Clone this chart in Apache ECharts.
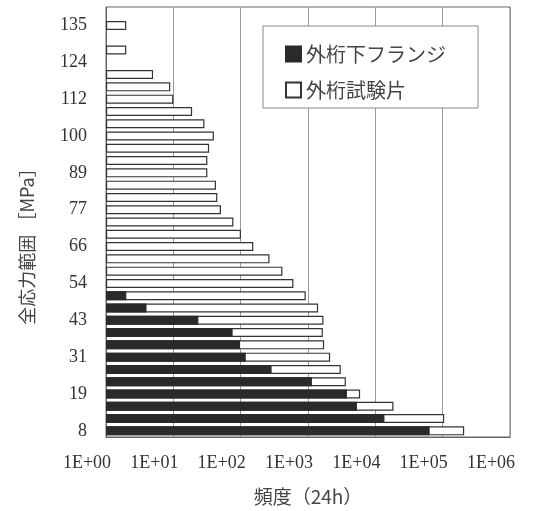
<!DOCTYPE html>
<html>
<head>
<meta charset="utf-8">
<script src="https://cdn.jsdelivr.net/npm/echarts@6/dist/echarts.min.js"></script>
<style>
  html, body { margin: 0; padding: 0; background: #fff; }
  #chart { width: 533px; height: 511px; }
</style>
</head>
<body>
<div id="chart"></div>
<script>
// Stress range classes [MPa], bottom to top
const stressLabels = ['8','12','15','19','23','27','31','35','39','43','46','50','54','58','62','66','70','73','77',
  '81','85','89','93','97','100','104','108','112','116','120','124','127','131','135','139'];

// Cycle counts per 24 h, outer girder test piece (外桁試験片)
const testPiece = [208600, 105200, 18580, 5940, 3650, 3070, 2130, 1735, 1660, 1694, 1413, 925, 607, 417, 268,
  154, 101, 78, 51, 45, 43, 32, 32, 34, 40, 29, 19, 10, 9, 5, null, 2, null, 2, null];

// Cycle counts per 24 h, outer girder lower flange (外桁下フランジ)
const lowerFlange = [64100, 13650, 5330, 3785, 1143, 288, 119, 98, 76, 23.5, 4, 2, null, null, null, null, null,
  null, null, null, null, null, null, null, null, null, null, null, null, null, null, null, null, null, null];

// Frequency axis tick labels, one per decade
const xTickLabels = ['1E+00', '1E+01', '1E+02', '1E+03', '1E+04', '1E+05', '1E+06'];

const serif = '"Liberation Serif", "DejaVu Serif", serif';
const jp = '"Noto Sans CJK JP", "Noto Sans", sans-serif';

const chart = echarts.init(document.getElementById('chart'), null, { renderer: 'canvas' });
chart.setOption({
  backgroundColor: '#fff',
  animation: false,
  grid: {
    left: 106, right: 23, top: 7, bottom: 74,
    show: true, borderColor: '#666', borderWidth: 1, backgroundColor: 'transparent'
  },
  legend: {
    orient: 'vertical',
    left: 263, top: 26,
    data: ['外桁下フランジ', '外桁試験片'],
    backgroundColor: '#fff',
    borderColor: '#888', borderWidth: 1,
    padding: [18, 32, 8, 22],
    itemWidth: 15, itemHeight: 15, itemGap: 16,
    textStyle: { fontFamily: jp, fontSize: 20, color: '#444' },
    icon: 'rect'
  },
  xAxis: {
    type: 'log', logBase: 10, min: 1, max: 1000000,
    splitNumber: 6,
    name: '頻度（24h）',
    nameLocation: 'middle', nameGap: 50,
    nameTextStyle: { fontFamily: jp, fontSize: 19, color: '#444' },
    axisLine: { show: true, lineStyle: { color: '#666', width: 1 } },
    axisTick: { show: false },
    splitLine: { show: true, lineStyle: { color: '#999', width: 1 } },
    axisLabel: {
      fontFamily: serif, fontSize: 18, color: '#333', margin: 17,
      padding: [0, 38, 0, 0],
      formatter: v => xTickLabels[Math.round(Math.log10(v))] || ''
    }
  },
  yAxis: {
    type: 'category',
    data: stressLabels,
    name: '全応力範囲 ［MPa］',
    nameLocation: 'middle', nameRotate: 90, nameGap: 70,
    nameTextStyle: { fontFamily: jp, fontSize: 18, color: '#444', padding: [0, 40, 0, 0] },
    axisLine: { show: true, lineStyle: { color: '#666', width: 1 } },
    axisTick: { show: false },
    splitLine: { show: false },
    axisLabel: { interval: 2, fontFamily: serif, fontSize: 18, color: '#333', margin: 19 }
  },
  series: [
    {
      name: '外桁試験片', type: 'bar', barWidth: 9, barGap: '-100%',
      data: testPiece,
      itemStyle: { color: '#fff', borderColor: '#333', borderWidth: 1.2 }
    },
    {
      name: '外桁下フランジ', type: 'bar', barWidth: 9, barGap: '-100%',
      data: lowerFlange,
      itemStyle: { color: '#2a2a2a', borderColor: '#2a2a2a', borderWidth: 1.2 }
    }
  ]
});
</script>
</body>
</html>
